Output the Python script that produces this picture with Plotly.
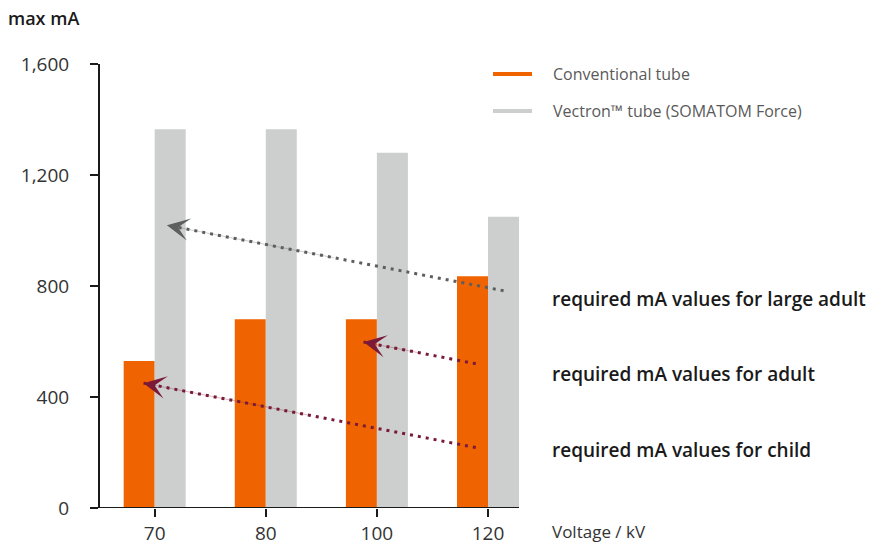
import plotly.graph_objects as go

# --- data -----------------------------------------------------------------
voltages = ["70", "80", "100", "120"]               # kV categories
conventional_ma = [530, 680, 680, 835]               # Conventional tube, max mA
vectron_ma = [1365, 1365, 1280, 1050]                 # Vectron tube, max mA
y_ticks = [0, 400, 800, 1200, 1600]

# required-mA trend arrows: (x as category index, y in mA), tail -> tip
arrow_labels = ["required mA values for large adult",
                "required mA values for adult",
                "required mA values for child"]
arrow_tail_x = [3.14, 2.89, 2.89]
arrow_tail_y = [783, 520, 218]
arrow_tip_x = [0.11, 1.88, -0.10]
arrow_tip_y = [1019, 598, 450]
arrow_colors = ["#5e5e5e", "#7b1a38", "#7b1a38"]

ORANGE = "#EF6300"
GREY = "#CDCFCE"
AXIS = "#1a1a1a"
FONT = "Open Sans"

# plot-area geometry (pixels)
W, H = 875, 542
ML, MR, MT, MB = 100, 356, 64, 34
PW, PH = W - ML - MR, H - MT - MB


def px_x(px):
    return (px - ML) / PW


def px_y(py):
    return (H - MB - py) / PH


x_idx = list(range(len(voltages)))

fig = go.Figure()
fig.add_trace(go.Bar(x=x_idx, y=conventional_ma, name="Conventional tube",
                     marker=dict(color=ORANGE, line=dict(width=0)),
                     hoverinfo="skip", showlegend=False))
fig.add_trace(go.Bar(x=x_idx, y=vectron_ma, name="Vectron™ tube (SOMATOM Force)",
                     marker=dict(color=GREY, line=dict(width=0)),
                     hoverinfo="skip", showlegend=False))

annotations = []
for tx, ty, hx, hy, col, lab in zip(arrow_tail_x, arrow_tail_y, arrow_tip_x,
                                    arrow_tip_y, arrow_colors, arrow_labels):
    # dotted shaft
    fig.add_trace(go.Scatter(x=[tx, hx], y=[ty, hy], mode="lines",
                             line=dict(color=col, width=3, dash="3px,5px"),
                             hoverinfo="skip", showlegend=False))
    # barbed head on a hairline stem lying under the dotted shaft
    f = 0.5
    annotations.append(dict(x=hx, y=hy, xref="x", yref="y",
                            ax=hx + f * (tx - hx), ay=hy + f * (ty - hy),
                            axref="x", ayref="y", text="", showarrow=True,
                            arrowhead=3, arrowsize=12.5, arrowwidth=0.3,
                            arrowcolor=col, standoff=0))

# labels to the right of the arrows
for lab, py in zip(arrow_labels, [299, 374, 450]):
    annotations.append(dict(x=px_x(550), y=px_y(py), xref="paper", yref="paper",
                            text=lab, showarrow=False, xanchor="left",
                            yanchor="middle",
                            font=dict(family=FONT, size=19, color=AXIS,
                                      weight=600)))

# legend drawn as short strokes with text
legend_items = [("Conventional tube", ORANGE, 74),
                ("Vectron™ tube (SOMATOM Force)", GREY, 111)]
shapes = []
for name, col, py in legend_items:
    shapes.append(dict(type="line", xref="paper", yref="paper",
                       x0=px_x(493), x1=px_x(532), y0=px_y(py), y1=px_y(py),
                       line=dict(color=col, width=4)))
    annotations.append(dict(x=px_x(551), y=px_y(py), xref="paper", yref="paper",
                            text=name, showarrow=False, xanchor="left",
                            yanchor="middle",
                            font=dict(family=FONT, size=16, color="#5a5a5a")))

# x-axis baseline, running a little past the y axis
shapes.append(dict(type="line", xref="paper", yref="y",
                   x0=px_x(90), x1=1, y0=0, y1=0,
                   line=dict(color=AXIS, width=2)))

# axis titles
annotations.append(dict(x=px_x(6), y=px_y(18), xref="paper", yref="paper",
                        text="max mA", showarrow=False, xanchor="left",
                        yanchor="middle",
                        font=dict(family=FONT, size=18, color=AXIS, weight=600)))
annotations.append(dict(x=px_x(550), y=px_y(531), xref="paper", yref="paper",
                        text="Voltage / kV", showarrow=False, xanchor="left",
                        yanchor="middle",
                        font=dict(family=FONT, size=17, color="#333333")))

fig.update_layout(
    width=W, height=H,
    margin=dict(l=ML, r=MR, t=MT, b=MB, autoexpand=False),
    paper_bgcolor="white", plot_bgcolor="white",
    barmode="group", bargap=0.442, bargroupgap=0,
    font=dict(family=FONT, color="#333333"),
    annotations=annotations, shapes=shapes,
    xaxis=dict(range=[-0.492, 3.279], tickvals=x_idx, ticktext=voltages,
               showline=False, showgrid=False, zeroline=False,
               ticks="outside", ticklen=8, tickwidth=2, tickcolor=AXIS,
               tickfont=dict(family=FONT, size=19, color="#333333"),
               automargin=False, fixedrange=True),
    yaxis=dict(range=[0, 1600], tickvals=y_ticks, tickformat=",",
               showline=True, linewidth=2, linecolor=AXIS,
               showgrid=False, zeroline=False,
               ticks="outside", ticklen=8, tickwidth=2, tickcolor=AXIS,
               ticklabelstandoff=17,
               tickfont=dict(family=FONT, size=19, color="#333333"),
               automargin=False, fixedrange=True),
)

fig.write_html("out.html", config={"displayModeBar": False})
